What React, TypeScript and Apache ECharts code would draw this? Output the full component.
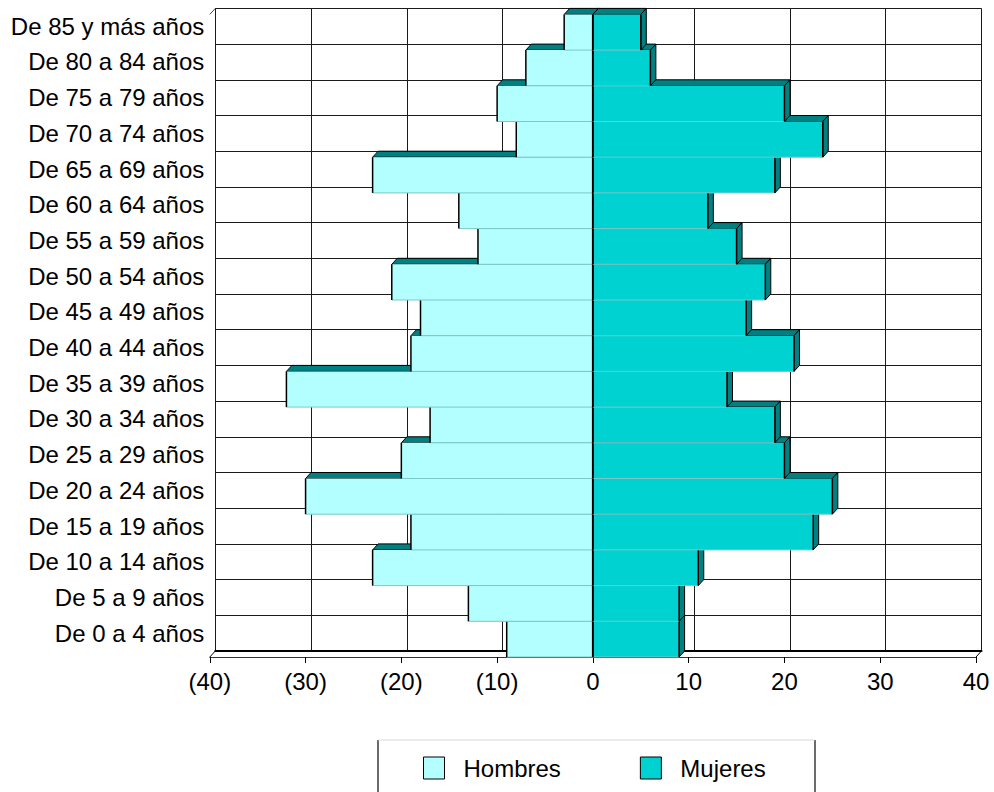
import React, { useEffect, useRef } from 'react';
import * as echarts from 'echarts';

// Categories from bottom (index 0) to top
const categories = [
  'De 0 a 4 años', 'De 5 a 9 años', 'De 10 a 14 años', 'De 15 a 19 años',
  'De 20 a 24 años', 'De 25 a 29 años', 'De 30 a 34 años', 'De 35 a 39 años',
  'De 40 a 44 años', 'De 45 a 49 años', 'De 50 a 54 años', 'De 55 a 59 años',
  'De 60 a 64 años', 'De 65 a 69 años', 'De 70 a 74 años', 'De 75 a 79 años',
  'De 80 a 84 años', 'De 85 y más años',
];
const hombres = [9, 13, 23, 19, 30, 20, 17, 32, 19, 18, 21, 12, 14, 23, 8, 10, 7, 3];
const mujeres = [9, 9, 11, 23, 25, 20, 19, 14, 21, 16, 18, 15, 12, 19, 24, 20, 6, 5];
const seriesNames = ['Hombres', 'Mujeres'];
const xMin = -40;
const xMax = 40;
const xInterval = 10;

const FONT = '"Liberation Sans", Arial, sans-serif';
const COL_H = '#B3FFFF';
const COL_M = '#00D2D2';
const DARK = '#008080';
const EDGE = '#7CC8C8';

// 3D layout
const FL = 209.8, FT = 14.4, FW = 766.2, FH = 642.6;
const DX = 5.5, DY = -6;

const makeRender = (fill: string, positive: boolean) => (params: any, api: any) => {
  const v = api.value(0);
  const c = api.value(1);
  const end = api.coord([v, c]);
  const zero = api.coord([0, c]);
  const h = api.size([0, 1])[1];
  const yTop = end[1] - h / 2;
  const yBot = end[1] + h / 2;
  const x0 = Math.min(end[0], zero[0]);
  const x1 = Math.max(end[0], zero[0]);
  const children: any[] = [];
  children.push({
    type: 'polygon',
    shape: { points: [[x0, yTop], [x1, yTop], [x1 + DX, yTop + DY], [x0 + DX, yTop + DY]] },
    style: { fill: DARK, stroke: '#000', lineWidth: 1 },
  });
  if (positive) {
    children.push({
      type: 'polygon',
      shape: { points: [[x1, yTop], [x1 + DX, yTop + DY], [x1 + DX, yBot + DY], [x1, yBot]] },
      style: { fill: DARK, stroke: '#000', lineWidth: 1 },
    });
  }
  children.push({
    type: 'rect',
    shape: { x: x0, y: yTop, width: x1 - x0, height: h },
    style: { fill },
  });
  children.push({
    type: 'line',
    shape: { x1: x0, y1: yBot, x2: x1, y2: yBot },
    style: { stroke: EDGE, lineWidth: 1 },
  });
  const xe = positive ? x1 : x0;
  children.push({
    type: 'line',
    shape: { x1: xe, y1: yTop, x2: xe, y2: yBot },
    style: { stroke: '#000', lineWidth: 1.5 },
  });
  if (positive) {
    children.push({
      type: 'line',
      shape: { x1: x0, y1: yTop, x2: x0, y2: yBot },
      style: { stroke: '#000', lineWidth: 2 },
    });
  }
  return { type: 'group', children };
};

export default function App() {
  const ref = useRef<HTMLDivElement>(null);
  useEffect(() => {
    if (!ref.current) return;
    const chart = echarts.init(ref.current, undefined, { renderer: 'svg' });
    const fmt = (v: number) => (v < 0 ? `(${-v})` : `${v}`);
    chart.setOption({
      animation: false,
      backgroundColor: '#fff',
      grid: [
        { left: FL, top: FT, width: FW, height: FH },
        { left: FL + DX, top: FT + DY, width: FW, height: FH },
      ],
      xAxis: [
        {
          type: 'value', gridIndex: 0, min: xMin, max: xMax, interval: xInterval,
          axisLine: { show: true, lineStyle: { color: '#333', width: 1 } },
          axisTick: { show: true, length: 6, lineStyle: { color: '#000' } },
          splitLine: { show: false },
          axisLabel: { formatter: fmt, fontSize: 24, color: '#000', fontFamily: FONT, margin: 12 },
        },
        {
          type: 'value', gridIndex: 1, min: xMin, max: xMax, interval: xInterval,
          axisLine: { show: true, lineStyle: { color: '#000', width: 2 } },
          axisTick: { show: false },
          axisLabel: { show: false },
          splitLine: { show: true, lineStyle: { color: '#1a1a1a', width: 1 } },
        },
      ],
      yAxis: [
        {
          type: 'category', gridIndex: 0, data: categories,
          axisLine: { show: true, lineStyle: { color: '#888', width: 1 } },
          axisTick: { show: false },
          axisLabel: { show: false },
          splitLine: { show: false },
        },
        {
          type: 'category', gridIndex: 1, data: categories,
          axisLine: { show: true, lineStyle: { color: '#000', width: 1.5 } },
          axisTick: { show: false },
          axisLabel: { fontSize: 24, color: '#000', fontFamily: FONT, margin: 11, interval: 0 },
          splitLine: { show: true, interval: 0, lineStyle: { color: '#1a1a1a', width: 1 } },
        },
      ],
      legend: {
        data: seriesNames,
        left: 423, top: 756,
        padding: 0,
        itemWidth: 21, itemHeight: 22, itemGap: 79,
        icon: 'rect',
        itemStyle: { borderColor: '#000', borderWidth: 1 },
        textStyle: { fontSize: 24, color: '#000', fontFamily: FONT, padding: [0, 0, 0, 14] },
      },
      graphic: [
        { type: 'rect', shape: { x: 378, y: 740, width: 437, height: 70 }, style: { fill: 'none', stroke: '#d8d8d8', lineWidth: 1 }, z: 1 },
        { type: 'line', shape: { x1: 378, y1: 740, x2: 378, y2: 800 }, style: { stroke: '#000', lineWidth: 2 } },
        { type: 'line', shape: { x1: 815, y1: 740, x2: 815, y2: 800 }, style: { stroke: '#000', lineWidth: 2 } },
        { type: 'line', shape: { x1: FL, y1: FT, x2: FL + DX, y2: FT + DY }, style: { stroke: '#444', lineWidth: 1 } },
        { type: 'line', shape: { x1: FL, y1: FT + FH, x2: FL + DX, y2: FT + FH + DY }, style: { stroke: '#000', lineWidth: 1 } },
        { type: 'line', shape: { x1: FL + FW, y1: FT + FH, x2: FL + FW + DX, y2: FT + FH + DY }, style: { stroke: '#000', lineWidth: 1 } },
      ],
      series: [
        {
          name: seriesNames[0], type: 'custom', xAxisIndex: 0, yAxisIndex: 0,
          itemStyle: { color: COL_H },
          encode: { x: 0, y: 1 },
          renderItem: makeRender(COL_H, false),
          data: hombres.map((v, i) => [-v, i]),
          z: 3,
        },
        {
          name: seriesNames[1], type: 'custom', xAxisIndex: 0, yAxisIndex: 0,
          itemStyle: { color: COL_M },
          encode: { x: 0, y: 1 },
          renderItem: makeRender(COL_M, true),
          data: mujeres.map((v, i) => [v, i]),
          z: 4,
        },
      ],
    });
    return () => chart.dispose();
  }, []);
  return (
    <div
      ref={ref}
      style={{ position: 'fixed', left: 0, top: 0, width: 994, height: 792 }}
    />
  );
}
